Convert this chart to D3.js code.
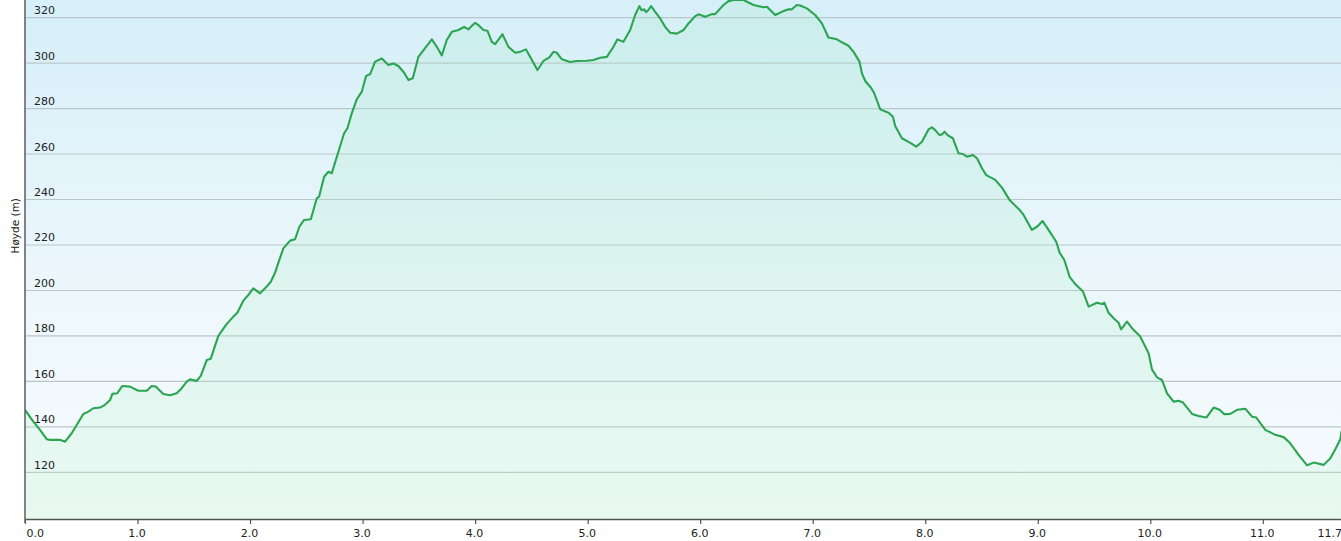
<!DOCTYPE html>
<html>
<head>
<meta charset="utf-8">
<script src="https://cdn.jsdelivr.net/npm/d3@7"></script>
<style>
html,body{margin:0;padding:0;background:#fff;overflow:hidden;}
svg{display:block;font-family:"DejaVu Sans",Verdana,sans-serif;}
</style>
</head>
<body>
<svg id="chart" width="1341" height="541"></svg>
<script>
// distance along the route (km)
const distanceKm = [0.00,0.074,0.133,0.193,0.222,0.311,0.356,0.415,0.518,0.563,0.607,0.667,0.711,0.756,0.776,0.820,0.865,0.933,1.007,1.082,1.126,1.164,1.229,1.289,1.348,1.393,1.437,1.467,1.526,1.562,1.615,1.651,1.718,1.793,1.852,1.887,1.940,1.985,2.029,2.089,2.148,2.184,2.222,2.260,2.296,2.356,2.400,2.438,2.480,2.540,2.593,2.613,2.658,2.696,2.726,2.785,2.836,2.865,2.904,2.948,2.993,3.031,3.067,3.111,3.171,3.229,3.274,3.318,3.369,3.407,3.446,3.496,3.540,3.615,3.660,3.704,3.748,3.793,3.852,3.902,3.940,4.000,4.029,4.074,4.109,4.148,4.178,4.243,4.296,4.356,4.400,4.451,4.489,4.554,4.607,4.660,4.696,4.726,4.771,4.844,4.904,4.993,5.052,5.111,5.171,5.194,5.229,5.265,5.318,5.378,5.422,5.460,5.480,5.502,5.520,5.540,5.564,5.600,5.644,5.689,5.733,5.793,5.852,5.896,5.956,5.985,6.044,6.104,6.133,6.207,6.252,6.296,6.385,6.474,6.563,6.593,6.667,6.726,6.785,6.815,6.859,6.889,6.948,7.022,7.082,7.140,7.215,7.260,7.318,7.363,7.416,7.437,7.467,7.520,7.547,7.600,7.674,7.713,7.733,7.793,7.867,7.920,7.971,8.029,8.059,8.089,8.127,8.148,8.172,8.198,8.246,8.296,8.332,8.371,8.424,8.460,8.504,8.542,8.622,8.682,8.749,8.844,8.874,8.948,8.993,9.043,9.096,9.164,9.194,9.236,9.283,9.333,9.402,9.452,9.526,9.571,9.591,9.629,9.674,9.718,9.740,9.793,9.846,9.911,9.985,10.015,10.059,10.104,10.148,10.207,10.252,10.291,10.371,10.429,10.498,10.563,10.616,10.658,10.711,10.771,10.844,10.904,10.942,11.022,11.111,11.185,11.244,11.318,11.393,11.452,11.541,11.600,11.644,11.689,11.700];
// elevation (m)
const elevationM = [147.3,142.1,138.5,134.4,134.1,134.1,133.3,137.0,145.5,146.5,148.0,148.3,149.5,151.6,154.3,154.6,157.8,157.5,155.7,155.7,157.8,157.5,154.3,153.7,154.6,156.8,159.7,160.7,160.0,162.2,169.2,169.8,179.8,185.1,188.3,190.0,195.3,197.8,200.7,198.5,201.5,203.6,207.6,213.2,218.3,221.7,222.3,227.8,230.8,231.1,240.3,241.0,249.8,252.0,251.3,260.8,268.9,271.1,277.7,283.8,287.2,294.1,294.9,300.4,301.8,298.9,299.6,298.5,295.5,292.3,293.1,302.5,305.4,310.2,306.9,303.1,309.9,313.5,314.3,315.7,314.6,317.5,316.5,314.3,314.0,309.1,308.1,312.5,306.9,304.3,304.7,305.8,302.5,296.7,300.7,302.3,304.7,304.3,301.4,300.2,300.7,300.8,301.1,302.1,302.5,304.3,306.9,310.2,309.1,314.3,320.9,324.8,323.0,323.4,322.2,323.1,324.8,322.3,319.4,315.7,313.1,312.7,314.3,317.2,320.4,321.2,320.1,321.3,321.3,325.3,327.0,327.5,327.5,325.3,324.3,324.5,320.9,322.3,323.4,323.4,325.3,325.1,323.8,320.9,317.2,311.0,310.2,308.9,307.4,304.7,300.4,295.3,291.9,288.8,286.5,279.4,277.9,276.2,272.1,266.7,264.7,263.0,265.2,270.6,271.5,270.3,268.1,268.4,269.6,268.1,266.7,260.1,259.8,258.6,259.3,257.9,253.5,250.5,248.4,245.0,239.6,234.9,233.0,226.4,227.8,230.3,226.4,221.2,216.4,213.2,205.8,202.6,199.3,192.7,194.4,193.8,194.4,190.0,187.6,185.6,182.7,186.1,182.7,179.5,172.2,165.1,161.6,160.4,154.6,150.9,151.3,150.5,145.5,144.6,143.9,148.3,147.3,145.4,145.5,147.3,147.8,144.3,143.9,138.5,136.3,135.3,132.6,127.5,122.9,124.1,123.1,126.0,130.0,134.4,138.0];

const xTickValues = [0,1,2,3,4,5,6,7,8,9,10,11,11.7];
const yTickValues = [120,140,160,180,200,220,240,260,280,300,320];
const yTitle = "Høyde (m)";

const n = Math.min(distanceKm.length, elevationM.length);
const data = d3.range(n).map(i=>({d:distanceKm[i], e:elevationM[i]}));

const svg = d3.select("#chart");
const pLeft = 25, pRight = 1341.6, pTop = 0, pBottom = 519;

const x = d3.scaleLinear().domain([0, 11.7]).range([pLeft, pRight]);
const y = d3.scaleLinear().domain([99.3, 327.5]).range([pBottom, pTop]);

const defs = svg.append("defs");
const bg = defs.append("linearGradient").attr("id","bg").attr("x1",0).attr("y1",0).attr("x2",0).attr("y2",1);
bg.append("stop").attr("offset","0%").attr("stop-color","#d6eff8");
bg.append("stop").attr("offset","55%").attr("stop-color","#ecf7fc");
bg.append("stop").attr("offset","100%").attr("stop-color","#f8fcff");

const af = defs.append("linearGradient").attr("id","af").attr("x1",0).attr("y1",0).attr("x2",0).attr("y2",1);
af.append("stop").attr("offset","0%").attr("stop-color","#9fe8c6").attr("stop-opacity",0.22);
af.append("stop").attr("offset","100%").attr("stop-color","#b4efc2").attr("stop-opacity",0.22);

defs.append("clipPath").attr("id","clip").append("rect")
  .attr("x",pLeft).attr("y",pTop).attr("width",pRight-pLeft).attr("height",pBottom-pTop);

svg.append("rect").attr("x",pLeft).attr("y",pTop).attr("width",pRight-pLeft).attr("height",pBottom-pTop)
  .attr("fill","url(#bg)");

// grid lines
svg.append("g").selectAll("line").data(yTickValues).join("line")
  .attr("x1",pLeft).attr("x2",pRight)
  .attr("y1",d=>y(d)+0.5).attr("y2",d=>y(d)+0.5)
  .attr("stroke","#bcc6ca").attr("stroke-width",1.2);

const plot = svg.append("g").attr("clip-path","url(#clip)");

plot.append("path").datum(data)
  .attr("fill","url(#af)")
  .attr("d", d3.area().x(p=>x(p.d)).y0(pBottom).y1(p=>y(p.e)));

plot.append("path").datum(data)
  .attr("fill","none")
  .attr("stroke","#2ba552")
  .attr("stroke-width",2.1)
  .attr("stroke-linejoin","round")
  .attr("d", d3.line().x(p=>x(p.d)).y(p=>y(p.e)));

// y labels inside the plot
svg.append("g").selectAll("text").data(yTickValues).join("text")
  .attr("x", pLeft+9).attr("y", d=>y(d)-3)
  .attr("font-size","11px").attr("fill","#222")
  .text(d=>d);

// axes
const xAxis = d3.axisBottom(x).tickValues(xTickValues).tickSize(5).tickSizeOuter(0)
  .tickFormat(d3.format(".1f"));
const gx = svg.append("g").attr("transform",`translate(0,${pBottom})`).call(xAxis);
gx.select(".domain").attr("stroke","#555").attr("stroke-width",1.5);
gx.selectAll(".tick line").attr("stroke","#555").attr("stroke-width",1.2);
gx.selectAll(".tick text").attr("font-size","11px").attr("fill","#222")
  .attr("font-family","DejaVu Sans, Verdana, sans-serif").attr("dy","0.9em")
  .attr("text-anchor",(d,i)=> i===0 ? "start" : (i===xTickValues.length-1 ? "end" : "middle"))
  .attr("dx",(d,i)=> i===0 ? "1" : (i===xTickValues.length-1 ? "0" : "-1"));

svg.append("line").attr("x1",pLeft).attr("x2",pLeft).attr("y1",pTop).attr("y2",pBottom+4)
  .attr("stroke","#666").attr("stroke-width",1.6);

svg.append("text")
  .attr("transform",`translate(19,${(y(220)+y(240))/2+4}) rotate(-90)`)
  .attr("text-anchor","middle").attr("font-size","10.5px").attr("fill","#222")
  .text(yTitle);
</script>
</body>
</html>
